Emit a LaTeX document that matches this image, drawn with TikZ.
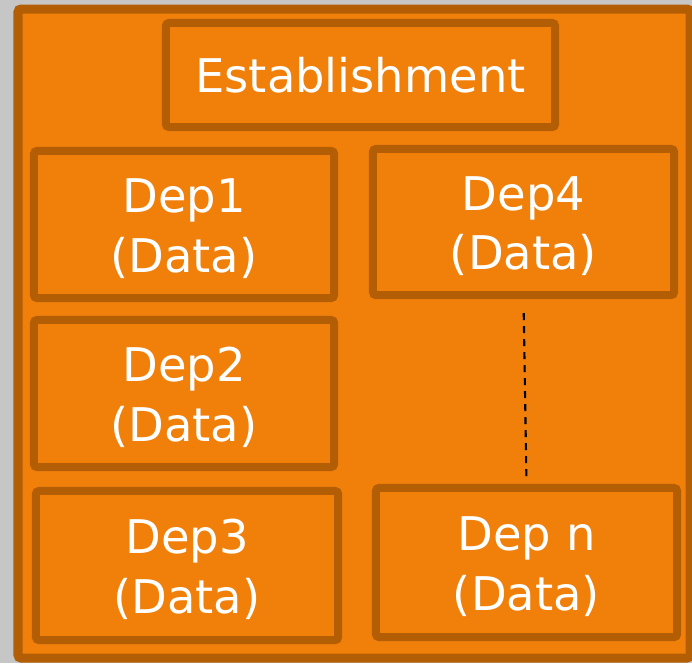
\documentclass[tikz,border=0pt]{standalone}
\usepackage{fontspec}
\setmainfont{DejaVu Sans}
\definecolor{bggray}{HTML}{C6C6C6}
\definecolor{deporange}{HTML}{F0800A}
\definecolor{depedge}{HTML}{B35E05}
\newcommand{\deptext}[1]{\rule{0pt}{0.42cm}#1\\(Data)}
\begin{document}
\begin{tikzpicture}[x=0.01cm, y=-0.01cm,
    depbox/.style={draw=depedge, fill=deporange, line width=0.08cm, rounded corners=0.03cm,
      text=white, align=center, inner sep=0pt, font=\fontsize{13.2pt}{16.9pt}\selectfont},
    dots/.style={dash pattern=on 0.07cm off 0.06cm, line width=0.6pt}]
      \path[fill=bggray](0, 0) rectangle (692, 663);
      \useasboundingbox (0, 0) rectangle (692, 663);
      \draw[draw=depedge, fill=deporange, line width=0.09cm, rounded corners=0.03cm](18, 9) rectangle (690, 658);
      \node[depbox, minimum width=3.89cm, minimum height=1.04cm] (est) at (360.5, 75) {Establishment};
      \node[depbox, minimum width=3.00cm, minimum height=1.47cm] (dep1) at (184, 224.5) {\deptext{Dep1}};
      \node[depbox, minimum width=3.00cm, minimum height=1.47cm] (dep2) at (184, 393.5) {\deptext{Dep2}};
      \node[depbox, minimum width=3.02cm, minimum height=1.49cm] (dep3) at (187, 565.5) {\deptext{Dep3}};
      \node[depbox, minimum width=3.01cm, minimum height=1.46cm] (dep4) at (523.5, 222) {\deptext{Dep4}};
      \node[depbox, minimum width=3.01cm, minimum height=1.49cm] (depn) at (526.5, 562.5) {\deptext{Dep n}};
      \draw[dots, shorten <=0.14cm, shorten >=0.03cm](dep4.south) -- (depn.north);
    \end{tikzpicture}
\end{document}
